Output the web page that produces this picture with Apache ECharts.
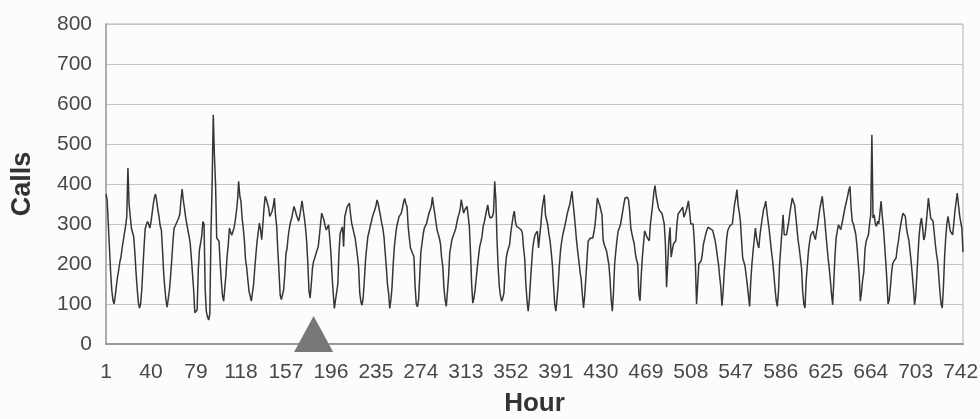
<!DOCTYPE html>
<html>
<head>
<meta charset="utf-8">
<script src="https://cdn.jsdelivr.net/npm/echarts@6/dist/echarts.min.js"></script>
<style>
html,body{margin:0;padding:0;background:#fcfcfa;}
#c{width:980px;height:419px;}
</style>
</head>
<body>
<div id="c"></div>
<script>
// Hourly call counts (one row = one day of 24 hours)
const week1 = [
  375,360,300,240,180,135,110,100,120,145,168,185,205,218,240,245,277,295,318,440,350,320,290,285,
  268,230,180,140,105,90,100,135,190,243,289,298,306,300,290,305,327,350,368,375,356,335,318,295,
  285,235,177,140,110,92,90,135,170,210,255,289,295,302,308,315,325,360,387,360,340,318,300,285,
  270,252,215,175,135,78,75,85,185,235,252,270,306,300,135,81,68,60,75,273,400,573,470,398,
  265,260,257,200,157,120,107,140,173,220,248,290,280,272,269,290,307,330,357,407,370,357,315,290,
  257,210,190,160,132,120,107,112,150,190,225,257,280,302,285,261,300,340,369,362,357,340,319,325,
  332,345,365,320,294,232,180,123,111,115,135,173,225,240,270,290,305,315,330,344,335,323,315,307
];
const week2 = [
  320,340,358,335,315,290,255,200,132,115,150,190,207,215,225,235,243,270,300,327,318,310,295,285,
  290,298,265,227,170,127,89,110,130,150,230,277,285,293,243,318,330,343,348,352,325,302,290,277,
  265,243,220,193,127,105,97,118,160,210,240,268,280,293,305,318,327,335,345,360,350,335,320,302,
  290,268,230,193,150,127,89,110,143,200,243,270,293,305,318,322,327,340,355,364,350,343,293,265,
  240,235,225,218,143,100,93,111,170,230,252,275,290,296,302,315,327,335,344,367,345,327,305,286,
  275,265,250,215,194,140,111,94,130,169,227,245,262,270,278,286,300,315,325,336,361,345,327,335,
  340,344,320,294,230,150,102,115,136,165,194,220,244,255,269,294,305,320,335,348,325,315,315,318
];
const week3 = [
  330,407,361,260,190,144,120,107,115,128,180,215,230,240,250,280,300,320,332,305,294,292,290,288,
  285,277,240,215,150,110,82,110,157,200,240,260,273,278,282,240,270,298,335,355,373,323,310,298,
  275,257,230,198,148,100,82,110,148,195,232,255,273,285,298,312,327,338,348,365,382,350,323,290,
  257,230,207,180,161,123,90,120,165,210,257,262,265,265,265,280,298,330,365,355,348,335,323,260,
  248,240,232,215,198,160,110,82,130,200,232,260,282,290,298,315,332,350,365,362,367,360,333,290,
  275,262,250,225,210,200,125,108,170,217,250,283,275,267,262,258,300,325,350,380,396,370,355,340,
  333,329,327,325,300,250,142,200,260,292,217,235,250,255,258,300,325,330,333,338,342,317,325,333
];
const week4 = [
  345,358,330,300,300,300,260,200,100,150,200,205,208,225,250,262,275,285,292,290,288,286,284,283,
  260,242,220,200,170,142,96,130,180,220,260,283,290,296,298,300,325,350,365,386,348,330,307,260,
  215,205,195,190,148,120,94,157,200,232,260,290,265,250,240,273,295,315,335,345,357,330,307,285,
  257,230,207,175,140,110,94,130,200,240,280,323,273,273,273,290,307,330,348,365,355,348,320,290,
  260,240,215,190,132,100,90,157,195,232,255,273,278,282,270,261,280,298,320,340,355,369,340,315,
  280,248,215,190,160,125,98,157,220,265,282,298,295,286,300,315,330,345,357,370,385,394,340,307,
  300,298,275,248,210,173,107,130,160,180,235,257,265,273,300,323,523,315,323,300,294,307,300,298
];
const week5 = [
  357,320,290,250,207,160,100,110,140,175,200,207,212,215,240,257,280,298,315,327,325,319,290,273,
  260,235,207,175,140,98,120,173,225,273,300,315,290,260,270,298,330,365,340,315,310,307,280,250,
  225,207,170,130,100,90,140,215,265,300,319,300,282,278,273,300,332,355,377,350,323,305,290,230
];
const calls = [].concat(week1, week2, week3, week4, week5);

// Category axis: hour numbers 1..N; a label every 39 hours (1, 40, 79, ... 742)
const hours = calls.map((_, i) => String(i + 1));
const labelStep = 39;
const yMin = 0, yMax = 800, yStep = 100;
const markerHour = 181;   // grey triangle marker on the hour axis

const FONT = "'Liberation Sans', Arial, sans-serif";
const chart = echarts.init(document.getElementById('c'), null, {renderer: 'canvas'});
chart.setOption({
  backgroundColor: '#fcfcfa',
  animation: false,
  grid: {left: 106, right: 17, top: 24, bottom: 75, outerBoundsMode: 'none', containLabel: false,
         show: true, borderColor: '#b0b0b0', borderWidth: 1, backgroundColor: 'transparent'},
  xAxis: {
    type: 'category',
    data: hours,
    boundaryGap: false,
    name: 'Hour',
    nameLocation: 'middle',
    nameGap: 47,
    nameTextStyle: {fontFamily: FONT, fontSize: 26, fontWeight: 'bold', color: '#333'},
    axisLine: {show: true, lineStyle: {color: '#9a9a9a', width: 2}},
    axisTick: {show: false},
    axisLabel: {interval: labelStep - 1, margin: 18, fontFamily: FONT, fontSize: 21, color: '#484848'},
    splitLine: {show: false}
  },
  yAxis: {
    type: 'value',
    min: yMin, max: yMax, interval: yStep,
    name: 'Calls',
    nameLocation: 'middle',
    nameRotate: 90,
    nameGap: 70,
    nameTextStyle: {fontFamily: FONT, fontSize: 27, fontWeight: 'bold', color: '#333'},
    axisLine: {show: true, lineStyle: {color: '#a0a0a0', width: 1.5}},
    axisTick: {show: false},
    axisLabel: {margin: 14, fontFamily: FONT, fontSize: 21, color: '#484848'},
    splitLine: {show: true, lineStyle: {color: '#c4c4c4', width: 1}}
  },
  series: [{
    type: 'line',
    data: calls,
    showSymbol: false,
    symbol: 'none',
    lineStyle: {color: '#363636', width: 1.5},
    z: 3,
    markPoint: {
      symbol: 'triangle',
      symbolSize: [39, 36],
      symbolOffset: [0, -10],
      silent: true,
      itemStyle: {color: '#777777'},
      label: {show: false},
      z: 5,
      data: [{coord: [String(markerHour), 0]}]
    }
  }]
});
</script>
</body>
</html>
